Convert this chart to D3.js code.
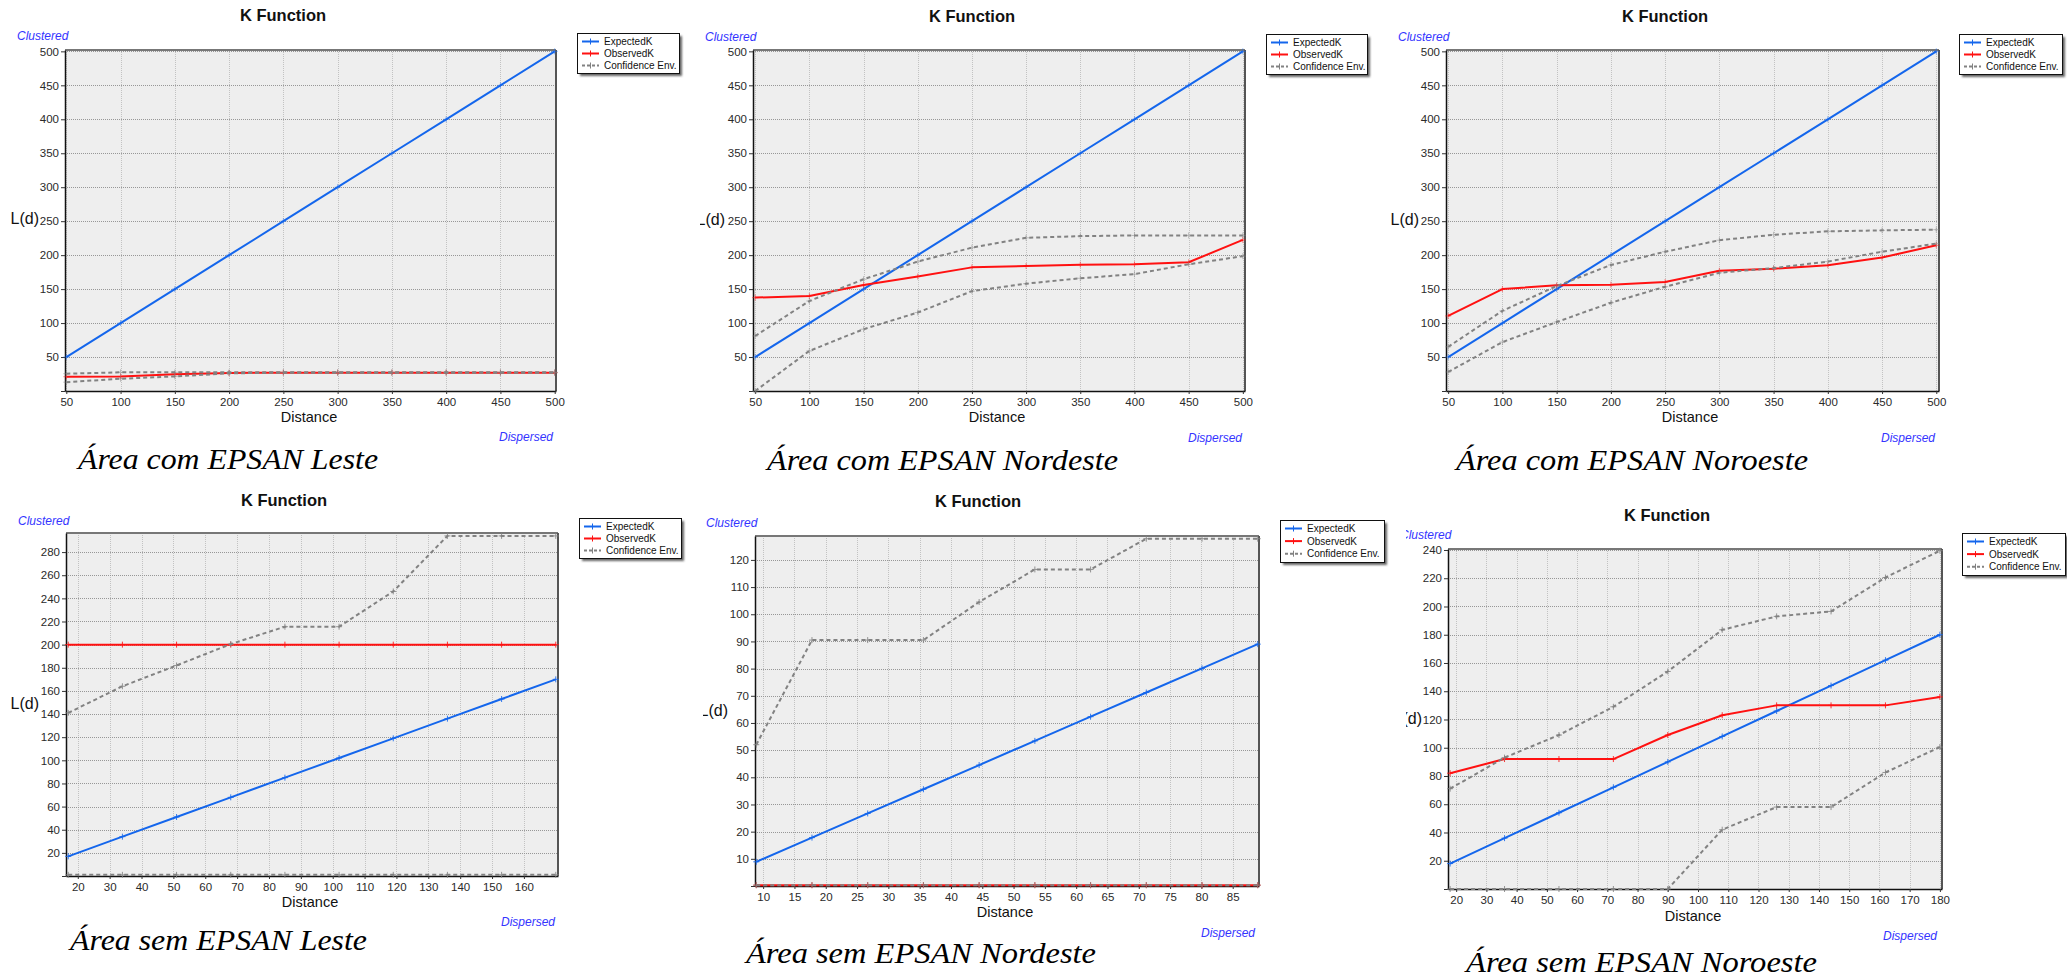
<!DOCTYPE html>
<html><head><meta charset="utf-8">
<script src="https://cdn.jsdelivr.net/npm/d3@7"></script>
<style>
body{margin:0;background:#fff;}
svg{display:block;}
</style></head><body>
<svg id="chart" width="2067" height="979"></svg>
<script>
// ---------------- DATA ----------------
const seriesNames = ["ExpectedK", "ObservedK", "Confidence Env."];

// Área com EPSAN Leste
const comLesteDist     = [50, 100, 150, 200, 250, 300, 350, 400, 450, 500];
const comLesteExpected = [50, 100, 150, 200, 250, 300, 350, 400, 450, 500];
const comLesteObserved = [21, 21.5, 24.5, 26.5, 27, 27, 27, 27, 27, 27];
const comLesteUpper    = [25.5, 27.5, 27.5, 27.5, 27.5, 27.5, 27.5, 27.5, 27.5, 27.5];
const comLesteLower    = [13, 18, 21.5, 26, 27, 27, 27, 27, 27, 27];

// Área com EPSAN Nordeste
const comNordesteDist     = [50, 100, 150, 200, 250, 300, 350, 400, 450, 500];
const comNordesteExpected = [50, 100, 150, 200, 250, 300, 350, 400, 450, 500];
const comNordesteObserved = [137.5, 140, 156, 168.5, 182, 184, 186, 186.5, 189.5, 222.5];
const comNordesteUpper    = [81, 132.5, 164.5, 190.5, 211, 225.5, 228, 229, 229, 229];
const comNordesteLower    = [0, 59, 91, 115.5, 147, 158, 166, 172, 186.5, 198.5];

// Área com EPSAN Noroeste
const comNoroesteDist     = [50, 100, 150, 200, 250, 300, 350, 400, 450, 500];
const comNoroesteExpected = [50, 100, 150, 200, 250, 300, 350, 400, 450, 500];
const comNoroesteObserved = [110.5, 150, 155.5, 156.5, 160.5, 177, 180, 185, 196.5, 214.5];
const comNoroesteUpper    = [65, 118, 154.5, 185.5, 205, 222, 230, 235, 236.5, 237.5];
const comNoroesteLower    = [28, 72, 101.5, 130, 153.5, 174, 181, 190.5, 205, 217];

// Área sem EPSAN Leste
const semLesteDist     = [17, 34, 51, 68, 85, 102, 119, 136, 153, 170];
const semLesteExpected = [17, 34, 51, 68, 85, 102, 119, 136, 153, 170];
const semLesteObserved = [200, 200, 200, 200, 200, 200, 200, 200, 200, 200];
const semLesteUpper    = [141, 164, 182, 200.5, 215.5, 215.5, 246, 294, 294, 294];
const semLesteLower    = [1, 1, 1, 1, 1, 1, 1, 1, 1, 1];

// Área sem EPSAN Nordeste
const semNordesteDist     = [8.9, 17.8, 26.7, 35.6, 44.5, 53.4, 62.3, 71.2, 80.1, 89];
const semNordesteExpected = [8.9, 17.8, 26.7, 35.6, 44.5, 53.4, 62.3, 71.2, 80.1, 89];
const semNordesteObserved = [0.3, 0.3, 0.3, 0.3, 0.3, 0.3, 0.3, 0.3, 0.3, 0.3];
const semNordesteUpper    = [52, 90.5, 90.5, 90.5, 104.5, 116.5, 116.5, 127.8, 127.8, 127.8];
const semNordesteLower    = [0.3, 0.3, 0.3, 0.3, 0.3, 0.3, 0.3, 0.3, 0.3, 0.3];

// Área sem EPSAN Noroeste
const semNoroesteDist     = [18, 36, 54, 72, 90, 108, 126, 144, 162, 180];
const semNoroesteExpected = [18, 36, 54, 72, 90, 108, 126, 144, 162, 180];
const semNoroesteObserved = [82, 92, 92, 92, 109, 123, 130, 130, 130, 136];
const semNoroesteUpper    = [71, 93, 109, 129, 154, 183.5, 193, 196.5, 220.5, 239.5];
const semNoroesteLower    = [0, 0, 0, 0, 0, 42, 58, 58, 82.5, 100.5];

// Tick labels
const topXTicks = [50, 100, 150, 200, 250, 300, 350, 400, 450, 500];
const topYTicks = [50, 100, 150, 200, 250, 300, 350, 400, 450, 500];
const semLesteXTicks = [20, 30, 40, 50, 60, 70, 80, 90, 100, 110, 120, 130, 140, 150, 160];
const semLesteYTicks = [20, 40, 60, 80, 100, 120, 140, 160, 180, 200, 220, 240, 260, 280];
const semNordesteXTicks = [10, 15, 20, 25, 30, 35, 40, 45, 50, 55, 60, 65, 70, 75, 80, 85];
const semNordesteYTicks = [10, 20, 30, 40, 50, 60, 70, 80, 90, 100, 110, 120];
const semNoroesteXTicks = [20, 30, 40, 50, 60, 70, 80, 90, 100, 110, 120, 130, 140, 150, 160, 170, 180];
const semNoroesteYTicks = [20, 40, 60, 80, 100, 120, 140, 160, 180, 200, 220, 240];

const captions = ["Área com EPSAN Leste", "Área com EPSAN Nordeste", "Área com EPSAN Noroeste",
                  "Área sem EPSAN Leste", "Área sem EPSAN Nordeste", "Área sem EPSAN Noroeste"];

// ---------------- LAYOUT (positions & styles) ----------------
const panels = [
  { data: {dist: comLesteDist, expected: comLesteExpected, observed: comLesteObserved, upper: comLesteUpper, lower: comLesteLower, xTicks: topXTicks, yTicks: topYTicks},
    left: 65, right: 556, top: 50, bottom: 391, xDomain: [48.8, 501.2], yDomain: [0, 502],
    title: [283, 21], clustered: [17, 40], dispersed: [553, 441], distance: [309, 422], ylab: [39, 220, null],
    legend: [577, 33, 102, 40], caption: [78, 469, 300], marker: 0.5 },
  { data: {dist: comNordesteDist, expected: comNordesteExpected, observed: comNordesteObserved, upper: comNordesteUpper, lower: comNordesteLower, xTicks: topXTicks, yTicks: topYTicks},
    left: 753, right: 1245, top: 50, bottom: 391, xDomain: [48, 502], yDomain: [0, 502],
    title: [972, 22], clustered: [705, 41], dispersed: [1242, 442], distance: [997, 422], ylab: [725, 221, 700],
    legend: [1266, 34, 101, 40], caption: [767, 470, 351], marker: 0.5 },
  { data: {dist: comNoroesteDist, expected: comNoroesteExpected, observed: comNoroesteObserved, upper: comNoroesteUpper, lower: comNoroesteLower, xTicks: topXTicks, yTicks: topYTicks},
    left: 1446, right: 1939, top: 50, bottom: 391, xDomain: [48, 502.5], yDomain: [0, 502],
    title: [1665, 22], clustered: [1398, 41], dispersed: [1935, 442], distance: [1690, 422], ylab: [1419, 221, null],
    legend: [1959, 34, 103, 40], caption: [1456, 470, 352], marker: 0.5 },
  { data: {dist: semLesteDist, expected: semLesteExpected, observed: semLesteObserved, upper: semLesteUpper, lower: semLesteLower, xTicks: semLesteXTicks, yTicks: semLesteYTicks},
    left: 66, right: 558, top: 533, bottom: 876, xDomain: [16.3, 170.7], yDomain: [0, 296.5],
    title: [284, 506], clustered: [18, 525], dispersed: [555, 926], distance: [310, 907], ylab: [39, 705, null],
    legend: [579, 518, 102, 40], caption: [70, 950, 297], marker: 0.85 },
  { data: {dist: semNordesteDist, expected: semNordesteExpected, observed: semNordesteObserved, upper: semNordesteUpper, lower: semNordesteLower, xTicks: semNordesteXTicks, yTicks: semNordesteYTicks},
    left: 755, right: 1259, top: 536, bottom: 886, xDomain: [8.7, 89.2], yDomain: [0, 128.8],
    title: [978, 507], clustered: [706, 527], dispersed: [1255, 937], distance: [1005, 917], ylab: [728, 712, 703],
    legend: [1280, 520, 104, 42], caption: [746, 963, 350], marker: 0.85 },
  { data: {dist: semNoroesteDist, expected: semNoroesteExpected, observed: semNoroesteObserved, upper: semNoroesteUpper, lower: semNoroesteLower, xTicks: semNoroesteXTicks, yTicks: semNoroesteYTicks},
    left: 1448, right: 1942, top: 549, bottom: 889, xDomain: [17.3, 180.7], yDomain: [0, 240.7],
    title: [1667, 521], clustered: [1400, 539, 1406], dispersed: [1937, 940], distance: [1693, 921], ylab: [1422, 720, 1406],
    legend: [1962, 533, 103, 42], caption: [1466, 972, 351], marker: 0.85 }
];

const BLUE = "#1466ec", RED = "#ff1111", GRAY = "#828282";
const UI = "'Liberation Sans', Arial, sans-serif";

const svg = d3.select("#chart");
const defs = svg.append("defs");
const f = defs.append("filter").attr("id", "blur").attr("x", "-20%").attr("y", "-20%").attr("width", "140%").attr("height", "140%");
f.append("feGaussianBlur").attr("stdDeviation", 1.2);

function drawPanel(L, i) {
  const D = L.data;
  const g = svg.append("g");
  const x = d3.scaleLinear().domain(L.xDomain).range([L.left, L.right]);
  const y = d3.scaleLinear().domain(L.yDomain).range([L.bottom, L.top]);

  g.append("rect").attr("x", L.left).attr("y", L.top)
    .attr("width", L.right - L.left).attr("height", L.bottom - L.top).attr("fill", "#eeeeee");

  // grid
  g.selectAll(".vg").data(D.xTicks).join("line")
    .attr("x1", d => Math.round(x(d)) + 0.5).attr("x2", d => Math.round(x(d)) + 0.5)
    .attr("y1", L.top).attr("y2", L.bottom)
    .attr("stroke", "#c2c2c2").attr("stroke-width", 1).attr("stroke-dasharray", "1,1");
  g.selectAll(".hg").data(D.yTicks).join("line")
    .attr("x1", L.left).attr("x2", L.right)
    .attr("y1", d => Math.round(y(d)) + 0.5).attr("y2", d => Math.round(y(d)) + 0.5)
    .attr("stroke", "#979797").attr("stroke-width", 1).attr("stroke-dasharray", "1,1");

  // frame top/right
  g.append("line").attr("x1", L.left).attr("x2", L.right).attr("y1", L.top).attr("y2", L.top)
    .attr("stroke", "#777").attr("stroke-width", 2);
  g.append("line").attr("x1", L.right).attr("x2", L.right).attr("y1", L.top).attr("y2", L.bottom)
    .attr("stroke", "#555").attr("stroke-width", 2);

  // axes
  const ya = d3.axisLeft(y).tickValues([0].concat(D.yTicks)).tickSize(4).tickSizeOuter(0).tickPadding(2)
    .tickFormat(d => d === 0 ? "" : d);
  const yg = g.append("g").attr("transform", `translate(${L.left},0)`).call(ya);
  const xa = d3.axisBottom(x).tickValues(D.xTicks).tickSize(3).tickSizeOuter(0).tickPadding(4);
  const xg = g.append("g").attr("transform", `translate(0,${L.bottom})`).call(xa);
  [yg, xg].forEach(a => {
    a.attr("font-family", UI).attr("font-size", 11.5);
    a.select(".domain").attr("stroke", "#111").attr("stroke-width", 1.5);
    a.selectAll(".tick line").attr("stroke", "#333");
    a.selectAll(".tick text").attr("fill", "#2a2a2a");
  });

  // series
  const pts = vals => D.dist.map((d, k) => [d, vals[k]]);
  const line = d3.line().x(p => x(p[0])).y(p => y(p[1]));
  const series = [
    { vals: D.expected, color: BLUE, dash: null },
    { vals: D.observed, color: RED, dash: null },
    { vals: D.upper, color: GRAY, dash: "4,3" },
    { vals: D.lower, color: GRAY, dash: "4,3" }
  ];
  series.forEach(s => {
    const p = pts(s.vals);
    g.append("path").attr("d", line(p)).attr("fill", "none")
      .attr("stroke", s.color).attr("stroke-width", 2)
      .attr("stroke-dasharray", s.dash).attr("stroke-linejoin", "round");
    g.selectAll(null).data(p).join("path")
      .attr("d", q => `M${x(q[0]) - 3},${y(q[1])}H${x(q[0]) + 3}M${x(q[0])},${y(q[1]) - 3}V${y(q[1]) + 3}`)
      .attr("stroke", s.color).attr("stroke-width", 1).attr("opacity", L.marker);
  });

  // texts
  g.append("text").attr("x", L.title[0]).attr("y", L.title[1]).attr("text-anchor", "middle")
    .attr("font-family", UI).attr("font-weight", "bold").attr("font-size", 16.5).attr("fill", "#111")
    .text("K Function");

  const cl = g.append("text").attr("x", L.clustered[0]).attr("y", L.clustered[1])
    .attr("font-family", UI).attr("font-style", "italic").attr("font-size", 12).attr("fill", "#3434ff")
    .text("Clustered");
  if (L.clustered[2] != null) {
    const cid = "clipc" + i;
    defs.append("clipPath").attr("id", cid).append("rect")
      .attr("x", L.clustered[2]).attr("y", L.clustered[1] - 20).attr("width", 200).attr("height", 30);
    cl.attr("clip-path", `url(#${cid})`);
  }

  g.append("text").attr("x", L.dispersed[0]).attr("y", L.dispersed[1]).attr("text-anchor", "end")
    .attr("font-family", UI).attr("font-style", "italic").attr("font-size", 12).attr("fill", "#3434ff")
    .text("Dispersed");

  g.append("text").attr("x", L.distance[0]).attr("y", L.distance[1]).attr("text-anchor", "middle")
    .attr("font-family", UI).attr("font-size", 14.5).attr("fill", "#111")
    .text("Distance");

  const yl = g.append("text").attr("x", L.ylab[0]).attr("y", L.ylab[1]).attr("text-anchor", "end")
    .attr("dominant-baseline", "middle")
    .attr("font-family", UI).attr("font-size", 16).attr("fill", "#111")
    .text("L(d)");
  if (L.ylab[2] != null) {
    const yid = "clipy" + i;
    defs.append("clipPath").attr("id", yid).append("rect")
      .attr("x", L.ylab[2]).attr("y", L.ylab[1] - 20).attr("width", 100).attr("height", 40);
    yl.attr("clip-path", `url(#${yid})`);
  }

  // legend
  const [lx, ly, lw, lh] = L.legend;
  g.append("rect").attr("x", lx + 3).attr("y", ly + 3).attr("width", lw).attr("height", lh)
    .attr("fill", "#333").attr("opacity", 0.75).attr("filter", "url(#blur)");
  g.append("rect").attr("x", lx + 0.5).attr("y", ly + 0.5).attr("width", lw).attr("height", lh)
    .attr("fill", "#fff").attr("stroke", "#111").attr("stroke-width", 1);
  const legendStyles = [
    { color: BLUE, dash: null }, { color: RED, dash: null }, { color: GRAY, dash: "3,2" }
  ];
  seriesNames.forEach((name, k) => {
    const ry = ly + 8.5 + k * 12 * (lh / 40);
    g.append("line").attr("x1", lx + 5).attr("x2", lx + 22).attr("y1", ry).attr("y2", ry)
      .attr("stroke", legendStyles[k].color).attr("stroke-width", 2).attr("stroke-dasharray", legendStyles[k].dash);
    g.append("line").attr("x1", lx + 13.5).attr("x2", lx + 13.5).attr("y1", ry - 3).attr("y2", ry + 3)
      .attr("stroke", legendStyles[k].color).attr("stroke-width", 1);
    g.append("text").attr("x", lx + 27).attr("y", ry + 3.5)
      .attr("font-family", UI).attr("font-size", 10).attr("fill", "#111").text(name);
  });

  // caption
  g.append("text").attr("x", L.caption[0]).attr("y", L.caption[1])
    .attr("font-family", "'Liberation Serif', 'Times New Roman', serif").attr("font-style", "italic")
    .attr("font-size", 30).attr("fill", "#000")
    .attr("textLength", L.caption[2]).attr("lengthAdjust", "spacingAndGlyphs")
    .text(captions[i]);
}

panels.forEach((p, i) => drawPanel(p, i));
</script>
</body></html>
